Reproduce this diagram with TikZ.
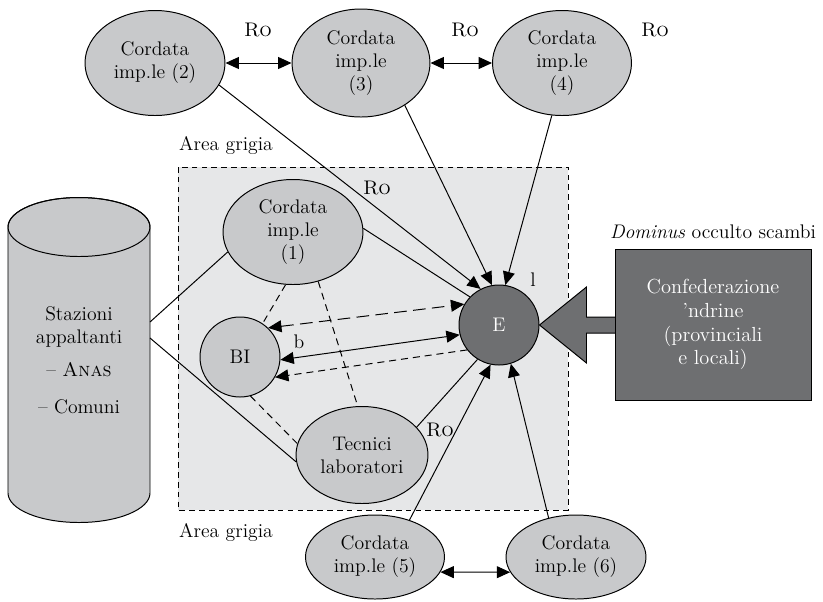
\documentclass[tikz,border=0pt]{standalone}
\usetikzlibrary{shapes.geometric,arrows.meta}
\definecolor{cgray}{RGB}{200,201,203}
\definecolor{agray}{RGB}{230,231,232}
\definecolor{dgray}{RGB}{110,111,113}
\begin{document}
\begin{tikzpicture}[>={Triangle[length=9.5pt,width=8.5pt]},line width=0.7pt,
	font=\fontsize{14}{16.4}\selectfont,
	ell/.style={ellipse,draw,fill=cgray,align=center,inner sep=0pt,minimum width=3.5cm,minimum height=2.625cm},
	circ/.style={circle,draw,inner sep=0pt,minimum size=2cm},
	sdash/.style={dash pattern=on 5pt off 3.5pt},
	ldash/.style={dash pattern=on 9pt off 4.5pt}]
	\useasboundingbox (0,0) rectangle (20.575,-15.025);
	% area grigia
	\draw[fill=agray,dash pattern=on 4pt off 3pt] (4.45,-4.175) rectangle (14.2,-12.75);
	\node[anchor=west] (ag1) at (4.35,-3.625) {Area grigia};
	\node[anchor=west] (ag2) at (4.35,-13.3) {Area grigia};
	% stazioni appaltanti
	\draw[fill=cgray] (0.2,-5.675) -- (0.2,-12.325) arc[start angle=180,end angle=360,x radius=1.775,y radius=0.7375]
	-- (3.75,-5.675) arc[start angle=0,end angle=180,x radius=1.775,y radius=0.7375] -- cycle;
	\draw (1.975,-5.675) ellipse[x radius=1.775,y radius=0.7375];
	\node[align=center] (sa) at (1.975,-9.0) {Stazioni\\appaltanti\\[7pt]-- \textsc{Anas}\\[10pt]-- Comuni};
	\coordinate (sa1) at (3.75,-8.05);
	\coordinate (sa2) at (3.75,-8.45);
	% cordate
	\node[ell] (c2) at (3.875,-1.575) {Cordata\\imp.le (2)};
	\node[ell,minimum width=3.45cm,minimum height=2.7cm] (c3) at (9.025,-1.575) {Cordata\\imp.le\\(3)};
	\node[ell,minimum width=3.475cm] (c4) at (14.05,-1.575) {Cordata\\imp.le\\(4)};
	\node[ell] (c1) at (7.325,-5.8) {Cordata\\imp.le\\(1)};
	\node[ell,minimum width=3.3cm,minimum height=2.425cm] (tec) at (9.05,-11.375) {Tecnici\\laboratori};
	\node[ell,minimum width=3.475cm,minimum height=2.1cm] (c5) at (9.375,-13.925) {Cordata\\imp.le (5)};
	\node[ell,minimum width=3.5cm,minimum height=2.1cm] (c6) at (14.4,-13.925) {Cordata\\imp.le (6)};
	\node[circ,fill=cgray] (BI) at (6.0,-8.925) {BI};
	\node[circ,fill=dgray,text=white] (E) at (12.475,-8.125) {E};
	% etichette
	\node (ro1) at (6.45,-0.75) {\textsc{Ro}};
	\node (ro2) at (11.625,-0.75) {\textsc{Ro}};
	\node (ro3) at (16.375,-0.75) {\textsc{Ro}};
	\node (ro4) at (9.425,-4.7) {\textsc{Ro}};
	\node (ro5) at (11.0,-10.75) {\textsc{Ro}};
	\node (l) at (13.325,-7.0) {l};
	\node (b) at (7.475,-8.55) {b};
	% collegamenti
	\draw[<->] (c2.east)--(c3.west);
	\draw[<->] (c3.east)--(c4.west);
	\draw[<->] (c5.-13)--(c6.193);
	\draw (sa1)--(c1.197) (sa2)--(tec.186);
	\draw[->] (c2.341)--(E.117);
	\draw[->] (c3.316)--(E.100);
	\draw[->] (c4.259)--(E.81);
	\draw[->] (c5.47)--(E.258);
	\draw[->] (c6.125)--(E.287);
	\draw (c1.3)--(E.136) (tec.27)--(E.238);
	\draw[<->,ldash] (BI.46)--(E.149);
	\draw[<->] (BI.356)--(E.194);
	\draw[->,sdash] (E.218)--(BI.330);
	\draw[sdash] (c1.262)--(BI.56) (c1.297)--(tec.95) (BI.285)--(tec.170);
	% confederazione
	\draw[fill=dgray] (E.east) -- ++(1.175,0.95) -- ++(0,-0.75) -- ++(0.75,0) -- ++(0,-0.4) -- ++(-0.75,0) -- ++(0,-0.75) -- cycle;
	\node[draw,fill=dgray,text=white,align=center,minimum width=4.9cm,minimum height=3.775cm,font=\fontsize{14.5}{17}\selectfont] (conf) at (17.825,-8.1125) {Confederazione\\'ndrine\\(provinciali\\e locali)};
	\node (dom) at (17.825,-5.8) {\textit{Dominus} occulto scambi};
\end{tikzpicture}
\end{document}
